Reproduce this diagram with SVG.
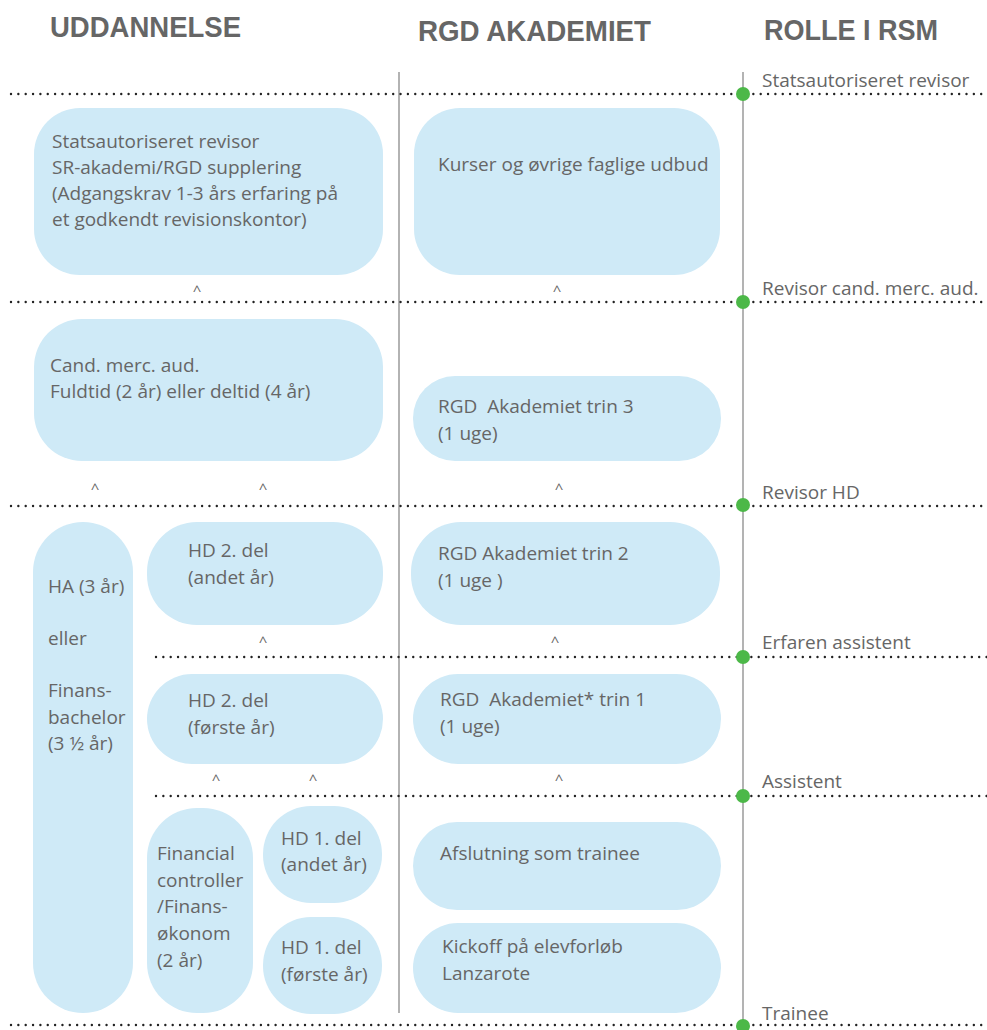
<svg xmlns="http://www.w3.org/2000/svg" width="987" height="1030" viewBox="0 0 987 1030">
<style>
.h{font-family:"Liberation Sans",Arial,sans-serif;font-weight:bold;font-size:30px;fill:#666}
.t{font-family:"Open Sans","Noto Sans",sans-serif;font-size:19px;fill:#666}
.r{font-family:"Open Sans","Noto Sans",sans-serif;font-size:19px;fill:#666}
.c{font-family:"Open Sans","Noto Sans",sans-serif;font-size:15px;fill:#666;text-anchor:middle}
.b{fill:#cfeaf7}
.v{stroke:#8a8a8a;stroke-width:1.3}
.d{stroke:#222;stroke-width:2.4;stroke-linecap:round;stroke-dasharray:0 7.35}
.g{fill:#4cb848}
</style>
<rect width="987" height="1030" fill="#fff"/>
<g id="headers">
<text class="h" x="50" y="37" textLength="191" lengthAdjust="spacingAndGlyphs">UDDANNELSE</text>
<text class="h" x="418" y="41" textLength="233" lengthAdjust="spacingAndGlyphs">RGD AKADEMIET</text>
<text class="h" x="764" y="40" textLength="174" lengthAdjust="spacingAndGlyphs">ROLLE I RSM</text>
</g>
<g id="grid">
<line class="v" x1="399" y1="72" x2="399" y2="1013"/>
<line class="v" x1="743" y1="72" x2="743" y2="1030"/>
<line class="d" x1="11" y1="94" x2="987" y2="94"/>
<line class="d" x1="11" y1="302" x2="987" y2="302"/>
<line class="d" x1="11" y1="506" x2="987" y2="506"/>
<line class="d" x1="156" y1="657" x2="987" y2="657"/>
<line class="d" x1="156" y1="796" x2="987" y2="796"/>
<line class="d" x1="11" y1="1025" x2="987" y2="1025"/>
</g>
<g id="roles">
<circle class="g" cx="743" cy="94" r="7"/>
<circle class="g" cx="743" cy="302" r="7"/>
<circle class="g" cx="743" cy="505" r="7"/>
<circle class="g" cx="743" cy="657" r="7"/>
<circle class="g" cx="743" cy="796" r="7"/>
<circle class="g" cx="743" cy="1026" r="7"/>
<text class="r" x="762" y="87">Statsautoriseret revisor</text>
<text class="r" x="762" y="295">Revisor cand. merc. aud.</text>
<text class="r" x="762" y="499">Revisor HD</text>
<text class="r" x="762" y="649">Erfaren assistent</text>
<text class="r" x="762" y="788">Assistent</text>
<text class="r" x="762" y="1020">Trainee</text>
</g>
<g id="connectors">
<text class="c" x="197" y="296">^</text>
<text class="c" x="557" y="296">^</text>
<text class="c" x="95" y="494">^</text>
<text class="c" x="263" y="494">^</text>
<text class="c" x="559" y="494">^</text>
<text class="c" x="263" y="647">^</text>
<text class="c" x="555" y="647">^</text>
<text class="c" x="216" y="785">^</text>
<text class="c" x="313" y="785">^</text>
<text class="c" x="559" y="785">^</text>
</g>
<g id="n1">
<rect class="b" x="34" y="108" width="349" height="167" rx="46"/>
<text class="t" x="52" y="148">Statsautoriseret revisor</text>
<text class="t" x="52" y="174">SR-akademi/RGD supplering</text>
<text class="t" x="52" y="200">(Adgangskrav 1-3 års erfaring på</text>
<text class="t" x="52" y="226">et godkendt revisionskontor)</text>
</g>
<g id="n2">
<rect class="b" x="414" y="108" width="306" height="167" rx="46"/>
<text class="t" x="438" y="171">Kurser og øvrige faglige udbud</text>
</g>
<g id="n3">
<rect class="b" x="34" y="319" width="349" height="142" rx="48"/>
<text class="t" x="50" y="372">Cand. merc. aud.</text>
<text class="t" x="50" y="398">Fuldtid (2 år) eller deltid (4 år)</text>
</g>
<g id="n4">
<rect class="b" x="413" y="376" width="308" height="85" rx="42"/>
<text class="t" x="438" y="413" xml:space="preserve">RGD  Akademiet trin 3</text>
<text class="t" x="438" y="440">(1 uge)</text>
</g>
<g id="n5">
<rect class="b" x="33" y="522" width="100" height="491" rx="50"/>
<text class="t" x="48" y="593">HA (3 år)</text>
<text class="t" x="48" y="645">eller</text>
<text class="t" x="48" y="697">Finans-</text>
<text class="t" x="48" y="724">bachelor</text>
<text class="t" x="48" y="750">(3 ½ år)</text>
</g>
<g id="n6">
<rect class="b" x="147" y="522" width="236" height="103" rx="50"/>
<text class="t" x="188" y="557">HD 2. del</text>
<text class="t" x="188" y="584">(andet år)</text>
</g>
<g id="n7">
<rect class="b" x="411" y="522" width="309" height="103" rx="50"/>
<text class="t" x="438" y="560">RGD Akademiet trin 2</text>
<text class="t" x="438" y="587">(1 uge )</text>
</g>
<g id="n8">
<rect class="b" x="147" y="674" width="236" height="90" rx="45"/>
<text class="t" x="188" y="707">HD 2. del</text>
<text class="t" x="188" y="734">(første år)</text>
</g>
<g id="n9">
<rect class="b" x="413" y="674" width="308" height="90" rx="45"/>
<text class="t" x="440" y="706" xml:space="preserve">RGD  Akademiet* trin 1</text>
<text class="t" x="440" y="733">(1 uge)</text>
</g>
<g id="n10">
<rect class="b" x="147" y="808" width="106" height="205" rx="50"/>
<text class="t" x="157" y="860">Financial</text>
<text class="t" x="157" y="887">controller</text>
<text class="t" x="157" y="913">/Finans-</text>
<text class="t" x="157" y="940">økonom</text>
<text class="t" x="157" y="967">(2 år)</text>
</g>
<g id="n11">
<rect class="b" x="263" y="806" width="119" height="97" rx="48"/>
<text class="t" x="281" y="845">HD 1. del</text>
<text class="t" x="281" y="871">(andet år)</text>
</g>
<g id="n12">
<rect class="b" x="263" y="917" width="119" height="97" rx="48"/>
<text class="t" x="281" y="954">HD 1. del</text>
<text class="t" x="281" y="981">(første år)</text>
</g>
<g id="n13">
<rect class="b" x="413" y="822" width="308" height="88" rx="44"/>
<text class="t" x="440" y="860">Afslutning som trainee</text>
</g>
<g id="n14">
<rect class="b" x="413" y="923" width="308" height="90" rx="45"/>
<text class="t" x="442" y="953">Kickoff på elevforløb</text>
<text class="t" x="442" y="980">Lanzarote</text>
</g>
</svg>
